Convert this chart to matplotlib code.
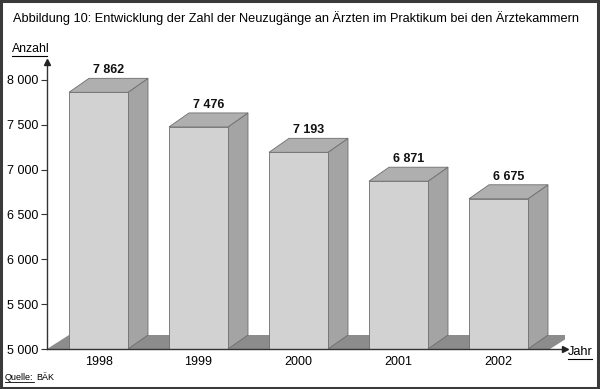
import numpy as np
import matplotlib.pyplot as plt
from matplotlib.patches import Polygon, Rectangle

plt.rcParams['font.family'] = ['Liberation Sans', 'DejaVu Sans']

# data
years = ["1998", "1999", "2000", "2001", "2002"]
values = [7862, 7476, 7193, 6871, 6675]
value_labels = ["7 862", "7 476", "7 193", "6 871", "6 675"]
yticks = [5000, 5500, 6000, 6500, 7000, 7500, 8000]
ytick_labels = ["5 000", "5 500", "6 000", "6 500", "7 000", "7 500", "8 000"]

fig = plt.figure(figsize=(6.0, 3.89), dpi=100)
W, H = 600, 389
ax = fig.add_axes([47 / W, 1 - 349 / H, (565 - 47) / W, (349 - 62) / H])
ax.set_xlim(-0.515, 4.665)
ax.set_ylim(5000, 8200)

# 3d depth in data units
dx = 0.2
dy = 14 / 89.7 * 1000
base = 5000
bw = 0.59

front_c = "#d2d2d2"
side_c = "#a4a4a4"
top_c = "#afafaf"
floor_c = "#8c8c8c"
edge_c = "#6e6e6e"

# floor
x0, x1 = -0.515, 4.515
ax.add_patch(Polygon([(x0, base), (x1, base), (x1 + dx + 0.02, base + dy), (x0 + dx + 0.02, base + dy)],
                     closed=True, facecolor=floor_c, edgecolor="none", zorder=1))

for i, v in enumerate(values):
    l, r = i - bw / 2, i + bw / 2
    ax.add_patch(Polygon([(r, base), (r + dx, base + dy), (r + dx, v + dy), (r, v)],
                         closed=True, facecolor=side_c, edgecolor=edge_c, lw=0.6, zorder=2))
    ax.add_patch(Polygon([(l, v), (r, v), (r + dx, v + dy), (l + dx, v + dy)],
                         closed=True, facecolor=top_c, edgecolor=edge_c, lw=0.6, zorder=2))
    ax.add_patch(Rectangle((l, base), bw, v - base, facecolor=front_c, edgecolor=edge_c, lw=0.6, zorder=3))
    ax.text(i + dx / 2, v + dy + 25, value_labels[i], ha="center", va="bottom",
            fontsize=9, fontweight="bold", color="#111111")

for s in ["top", "right"]:
    ax.spines[s].set_visible(False)
for s in ["left", "bottom"]:
    ax.spines[s].set_color("#333333")
    ax.spines[s].set_linewidth(1.0)
    ax.spines[s].set_zorder(4)

ax.set_yticks(yticks)
ax.set_yticklabels(ytick_labels)
ax.set_xticks(range(len(years)))
ax.set_xticklabels(years)
ax.tick_params(axis="y", length=4, width=0.8, color="#333333", labelsize=9, pad=2)
ax.tick_params(axis="x", length=0, labelsize=9, pad=5)

# arrows
ax.plot(1, 0, marker=">", markersize=4, color="#222222", transform=ax.transAxes, clip_on=False, zorder=5)
ax.plot(0, 1, marker="^", markersize=4, color="#222222", transform=ax.transAxes, clip_on=False, zorder=5)

fig.text(13 / W, 1 - 18 / H, "Abbildung 10: Entwicklung der Zahl der Neuzugänge an Ärzten im Praktikum bei den Ärztekammern",
         fontsize=9.2, va="center", ha="left")
fig.text(12 / W, 1 - 49 / H, "Anzahl", fontsize=8.8, va="center", ha="left")
fig.add_artist(plt.Line2D([12 / W, 47 / W], [1 - 56 / H, 1 - 56 / H], color="black", lw=0.8))
fig.text(568 / W, 1 - 352 / H, "Jahr", fontsize=9.2, va="center", ha="left")
fig.add_artist(plt.Line2D([568 / W, 592 / W], [1 - 359 / H, 1 - 359 / H], color="black", lw=0.8))

# source line
q = fig.text(5 / W, 1 - 378 / H, "Quelle:", fontsize=6.5, va="center", ha="left")
fig.canvas.draw()
bb = q.get_window_extent()
fig.text(bb.x1 / W + 3 / W, 1 - 378 / H, "BÄK", fontsize=6.5, va="center", ha="left")
fig.add_artist(plt.Line2D([bb.x0 / W, bb.x1 / W], [1 - 382 / H, 1 - 382 / H], color="black", lw=0.6))

# outer frame
fig.add_artist(Rectangle((0.002, 0.003), 0.995, 0.994, transform=fig.transFigure,
                         fill=False, edgecolor="#3a3a3a", lw=2.2))

fig.savefig("out.png", dpi=100)
